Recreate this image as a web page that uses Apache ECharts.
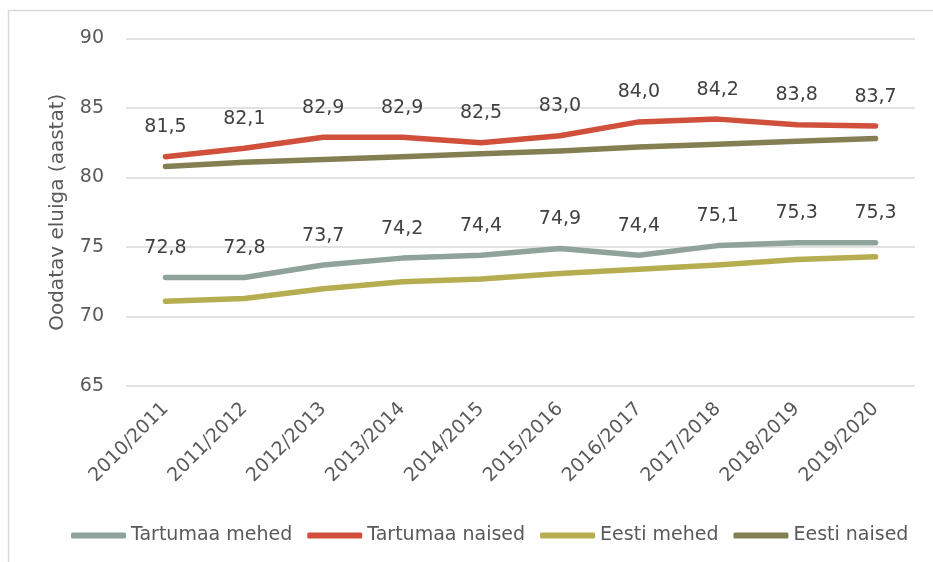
<!DOCTYPE html>
<html>
<head>
<meta charset="utf-8">
<script src="https://cdn.jsdelivr.net/npm/echarts@6/dist/echarts.min.js"></script>
<style>
	html,body{margin:0;padding:0;background:#fff;}
	#main{width:933px;height:562px;}
</style>
</head>
<body>
<div id="main"></div>
<script type="text/javascript">
	// aastad
	var categories = ["2010/2011","2011/2012","2012/2013","2013/2014","2014/2015","2015/2016","2016/2017","2017/2018","2018/2019","2019/2020"];
	var tartuMehed = [72.8,72.8,73.7,74.2,74.4,74.9,74.4,75.1,75.3,75.3];
	var tartuNaised = [81.5,82.1,82.9,82.9,82.5,83.0,84.0,84.2,83.8,83.7];
	var eestiMehed = [71.1,71.3,72.0,72.5,72.7,73.1,73.4,73.7,74.1,74.3];
	var eestiNaised = [80.8,81.1,81.3,81.5,81.7,81.9,82.2,82.4,82.6,82.8];

	var font = "DejaVu Sans";
	var txtColor = "#595959";

	function fmt(p){
		return p.value.toFixed(1).replace(".",",");
	}

	function mkSeries(name,data,color,withLabel){
		return {
			name:name,
			type:'line',
			data:data,
			symbol:'circle',
			symbolSize:0,
			showSymbol:true,
			lineStyle:{width:5.5,color:color,cap:'round',join:'round'},
			itemStyle:{color:color},
			label:{
				show:withLabel,
				position:'top',
				distance:20,
				formatter:fmt,
				color:"#404040",
				fontFamily:font,
				fontSize:19
			}
		};
	}

	var myChart = echarts.init(document.getElementById("main"),null,{renderer:'canvas'});

	var option = {
		animation:false,
		graphic:[{
			type:'rect',
			shape:{x:8.5,y:10.5,width:1000,height:1000},
			style:{fill:'none',stroke:'#d9d9d9',lineWidth:1.5},
			silent:true
		}],
		grid:{left:126,right:18,top:38.5,bottom:176},
		legend:{
			top:521,
			left:66,
			icon:'roundRect',
			itemWidth:55,
			itemHeight:6,
			itemGap:15,
			textStyle:{color:txtColor,fontFamily:font,fontSize:19}
		},
		xAxis:{
			type:'category',
			data:categories,
			boundaryGap:true,
			axisLine:{show:false},
			axisTick:{show:false},
			axisLabel:{rotate:45,color:txtColor,fontFamily:font,fontSize:19,margin:20,interval:0}
		},
		yAxis:{
			type:'value',
			min:65,
			max:90,
			interval:5,
			name:'Oodatav eluiga (aastat)',
			nameLocation:'middle',
			nameRotate:90,
			nameGap:58,
			nameTextStyle:{color:txtColor,fontFamily:font,fontSize:20},
			axisLine:{show:false},
			axisTick:{show:false},
			axisLabel:{color:txtColor,fontFamily:font,fontSize:19,margin:22},
			splitLine:{lineStyle:{color:'#d9d9d9',width:1.5}}
		},
		series:[
			mkSeries("Tartumaa mehed",tartuMehed,"#8fa39a",true),
			mkSeries("Tartumaa naised",tartuNaised,"#d0503c",true),
			mkSeries("Eesti mehed",eestiMehed,"#b5ad4f",false),
			mkSeries("Eesti naised",eestiNaised,"#847e53",false)
		]
	};

	myChart.setOption(option);
</script>
</body>
</html>
